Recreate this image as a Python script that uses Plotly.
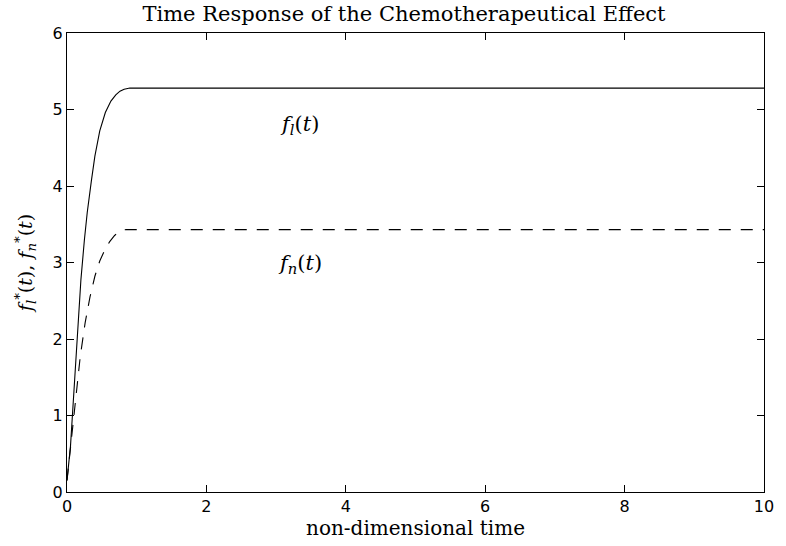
import plotly.graph_objects as go

# Data
t_l = [0.0, 0.05, 0.11, 0.15, 0.20, 0.25, 0.29, 0.35, 0.40, 0.47, 0.55, 0.63, 0.70, 0.76, 0.82, 0.87, 0.90, 10.0]
f_l = [0.15, 0.60, 1.47, 2.10, 2.78, 3.30, 3.65, 4.07, 4.39, 4.72, 4.96, 5.11, 5.19, 5.24, 5.265, 5.275, 5.28, 5.28]

t_n = [0.0, 0.06, 0.12, 0.19, 0.26, 0.33, 0.40, 0.47, 0.54, 0.61, 0.68, 0.74, 0.80, 0.85, 10.0]
f_n = [0.15, 0.68, 1.12, 1.77, 2.21, 2.55, 2.82, 3.02, 3.16, 3.27, 3.35, 3.40, 3.425, 3.43, 3.43]

x_ticks = [0, 2, 4, 6, 8, 10]
y_ticks = [0, 1, 2, 3, 4, 5, 6]

title_text = "Time Response of the Chemotherapeutical Effect"
x_label = "non-dimensional time"
y_label = "<i>f</i><sub><i>l</i></sub><sup>*</sup>(<i>t</i>), <i>f</i><sub><i>n</i></sub><sup>*</sup>(<i>t</i>)"
ann_l = "<i>f</i><sub><i>l</i></sub>(<i>t</i>)"
ann_n = "<i>f</i><sub><i>n</i></sub>(<i>t</i>)"

serif = "DejaVu Serif, serif"
sans = "DejaVu Sans, sans-serif"

fig = go.Figure()
fig.add_trace(go.Scatter(x=t_l, y=f_l, mode="lines",
                         line=dict(color="black", width=1.1), showlegend=False))
fig.add_trace(go.Scatter(x=t_n, y=f_n, mode="lines",
                         line=dict(color="black", width=1.1, dash="12px,10px"), showlegend=False))

fig.add_annotation(x=3.34, y=4.8, text=ann_l, showarrow=False,
                   font=dict(family=serif, size=21, color="black"))
fig.add_annotation(x=3.34, y=2.98, text=ann_n, showarrow=False,
                   font=dict(family=serif, size=21, color="black"))

axis_common = dict(showline=True, linecolor="black", linewidth=1.2, mirror="ticks",
                   ticks="inside", ticklen=7, tickcolor="black", showgrid=False,
                   zeroline=False, tickfont=dict(family=sans, size=16, color="black"))

fig.update_xaxes(range=[0, 10], tickvals=x_ticks, ticktext=[str(v) for v in x_ticks],
                 title=dict(text=x_label, font=dict(family=serif, size=20, color="black"), standoff=0),
                 **axis_common)
fig.update_yaxes(range=[0, 6], tickvals=y_ticks, ticktext=[str(v) for v in y_ticks],
                 title=dict(text=y_label, font=dict(family=serif, size=19, color="black"), standoff=14),
                 **axis_common)

fig.update_layout(
    width=786, height=546,
    margin=dict(l=67, r=14, t=33, b=54),
    paper_bgcolor="white", plot_bgcolor="white",
    title=dict(text=title_text, x=0.514, xanchor="center", y=0.975, yanchor="middle",
               font=dict(family=serif, size=21, color="black")),
)

fig.write_html("out.html", config={"displayModeBar": False},
               post_script="document.body.style.margin='0px';document.body.style.padding='0px';document.body.style.overflow='hidden';")
